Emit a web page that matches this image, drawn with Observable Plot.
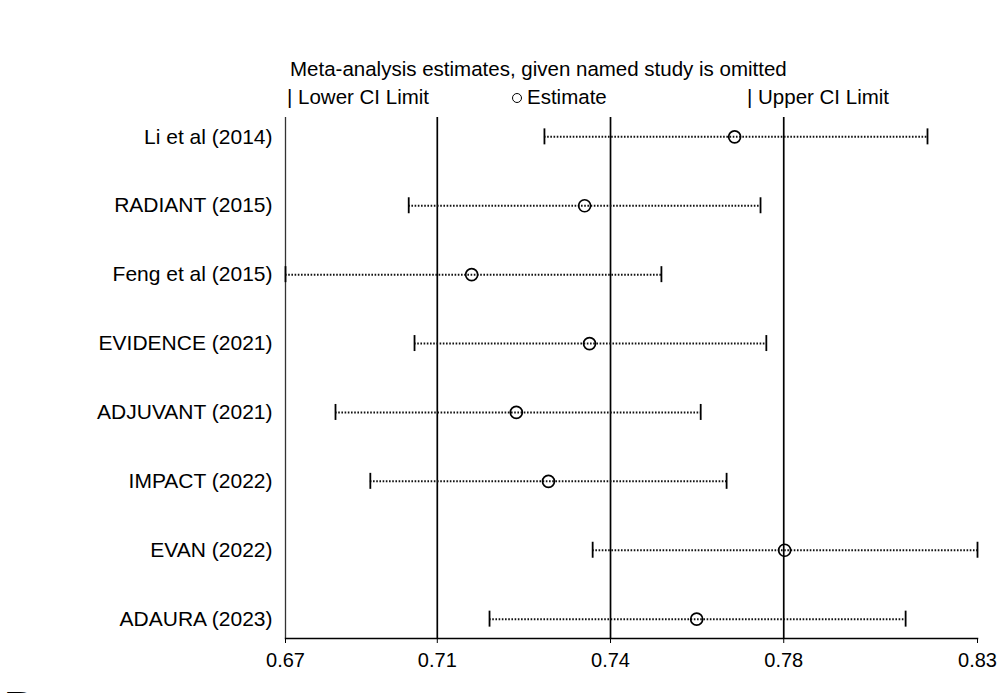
<!DOCTYPE html>
<html>
<head>
<meta charset="utf-8">
<script src="https://cdn.jsdelivr.net/npm/d3@7"></script>
<script src="https://cdn.jsdelivr.net/npm/@observablehq/plot@0.6"></script>
<style>
  html, body { margin: 0; padding: 0; background: #fff; overflow: hidden; }
  body { width: 1001px; height: 693px; position: relative; font-family: "Liberation Sans", Arial, sans-serif; color: #000; }
  #header { position: relative; height: 110px; width: 1001px; }
  .t { position: absolute; font-size: 20.5px; line-height: 24px; white-space: nowrap; }
  .circ { display: inline-block; width: 8px; height: 8px; border: 1.6px solid #000; border-radius: 50%; margin-right: 5px; vertical-align: 1px; }
  #panel { position: absolute; left: 4px; top: 685px; font: bold 48px "Liberation Sans", Arial, sans-serif; line-height: 48px; }
</style>
</head>
<body>
<div id="header">
  <div class="t" id="title" style="left:290px; top:57px;">Meta-analysis estimates, given named study is omitted</div>
  <div class="t" style="left:287px; top:85px;">| Lower CI Limit</div>
  <div class="t" style="left:512px; top:85px;"><span class="circ"></span>Estimate</div>
  <div class="t" style="left:747px; top:85px;">| Upper CI Limit</div>
</div>
<div id="chart"></div>
<div id="panel">D</div>
<script>
const studies = ["Li et al (2014)", "RADIANT (2015)", "Feng et al (2015)", "EVIDENCE (2021)", "ADJUVANT (2021)", "IMPACT (2022)", "EVAN (2022)", "ADAURA (2023)"];
const lower    = [0.7300, 0.6996, 0.6720, 0.7009, 0.6832, 0.6910, 0.7408, 0.7177];
const estimate = [0.7726, 0.7390, 0.7137, 0.7401, 0.7237, 0.7309, 0.7838, 0.7641];
const upper    = [0.8158, 0.7784, 0.7562, 0.7797, 0.7650, 0.7708, 0.8270, 0.8109];
const overall  = [0.7060, 0.7448, 0.7836];   // overall lower CI, estimate, upper CI
const xTicks   = [0.672, 0.7060, 0.7448, 0.7836, 0.827];

const rows = studies.map((s, i) => ({study: s, lower: lower[i], est: estimate[i], upper: upper[i]}));
const font = "'Liberation Sans', Arial, sans-serif";

const chart = Plot.plot({
  width: 1001,
  height: 583,
  marginLeft: 285,
  marginRight: 24,
  marginTop: 7,
  marginBottom: 55,
  style: {fontFamily: font, fontSize: "20px", color: "#000", background: "#fff", overflow: "visible"},
  x: {domain: [xTicks[0], xTicks[xTicks.length - 1]]},
  y: {type: "band", domain: studies, paddingInner: 0.768, paddingOuter: 0.165, align: 0.5, round: false},
  marks: [
    Plot.ruleX([xTicks[0]], {stroke: "#333", strokeWidth: 1.3}),
    Plot.ruleX(overall, {stroke: "#000", strokeWidth: 1.7}),
    Plot.frame({anchor: "bottom", stroke: "#000", strokeWidth: 1.5}),
    Plot.ruleY(rows, {y: "study", x1: "lower", x2: "upper", stroke: "#111", strokeWidth: 2, strokeDasharray: "1.6,1.6"}),
    Plot.tickX(rows, {x: "lower", y: "study", stroke: "#000", strokeWidth: 1.8}),
    Plot.tickX(rows, {x: "upper", y: "study", stroke: "#000", strokeWidth: 1.8}),
    Plot.dot(rows, {x: "est", y: "study", r: 6, stroke: "#000", strokeWidth: 1.7, fill: "none"}),
    Plot.axisX({ticks: xTicks, tickFormat: d3.format(".2f"), tickSize: 5, tickPadding: 9, fontSize: 20, stroke: "#000", label: null}),
    Plot.axisY({tickSize: 0, tickPadding: 13, fontSize: 21, label: null})
  ]
});
document.getElementById("chart").appendChild(chart);
</script>
</body>
</html>
